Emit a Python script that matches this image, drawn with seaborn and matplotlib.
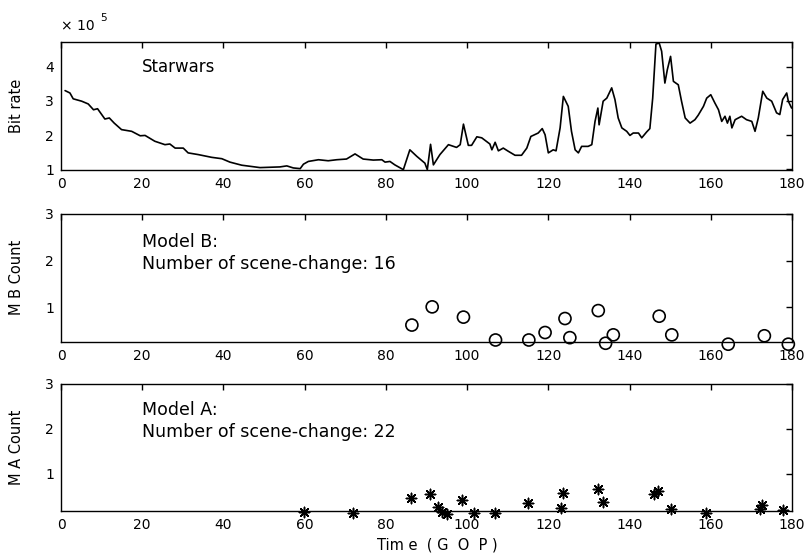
import matplotlib
matplotlib.use("Agg")
import matplotlib.pyplot as plt
import seaborn as sns
import pandas as pd

# ---- data ----
gop_time = [1.0, 2.2, 3.0, 5.1, 6.7, 8.0, 9.0, 10.8, 11.9, 13.1, 14.9, 17.4, 19.5, 20.7,
            23.1, 25.6, 26.8, 28.1, 30.1, 31.3, 33.8, 37.1, 39.6, 41.6, 44.5, 49.0, 53.9,
            55.6, 57.2, 58.9, 59.7, 60.9, 63.4, 65.8, 67.9, 70.3, 72.4, 74.4, 76.9, 79.0,
            79.8, 81.0, 82.2, 84.3, 85.9, 87.6, 89.6, 90.2, 91.0, 91.7, 93.3, 95.4, 97.4,
            98.3, 99.1, 100.3, 101.1, 102.4, 103.6, 105.6, 106.1, 106.9, 107.7, 108.9,
            110.1, 111.8, 113.4, 114.7, 115.7, 117.5, 118.5, 119.2, 120.0, 121.2, 121.9,
            122.9, 123.7, 124.9, 125.7, 126.6, 127.4, 128.2, 129.8, 130.7, 131.5, 132.2,
            132.5, 133.0, 133.5, 134.4, 135.6, 136.4, 137.2, 138.1, 139.3, 140.1, 140.9,
            142.2, 143.0, 144.2, 145.0, 145.7, 146.5, 147.3, 147.9, 148.7, 149.3, 150.1,
            150.8, 152.0, 152.8, 153.7, 154.9, 156.1, 156.9, 158.2, 159.0, 160.0, 161.0,
            161.9, 162.7, 163.5, 164.1, 164.7, 165.2, 166.0, 167.6, 168.8, 170.1, 170.9,
            171.7, 172.8, 173.8, 175.0, 176.2, 177.0, 177.7, 178.7, 179.1, 179.9]
bit_rate = [3.30, 3.23, 3.06, 2.99, 2.91, 2.74, 2.77, 2.47, 2.50, 2.35, 2.16, 2.11, 1.98, 1.99,
            1.82, 1.72, 1.74, 1.62, 1.62, 1.48, 1.43, 1.35, 1.31, 1.21, 1.12, 1.05, 1.07,
            1.10, 1.04, 1.02, 1.15, 1.23, 1.28, 1.25, 1.28, 1.30, 1.45, 1.30, 1.27, 1.28,
            1.21, 1.23, 1.13, 0.99, 1.57, 1.38, 1.18, 0.99, 1.73, 1.13, 1.43, 1.72, 1.64,
            1.72, 2.32, 1.70, 1.70, 1.95, 1.92, 1.74, 1.57, 1.79, 1.54, 1.62,
            1.53, 1.41, 1.41, 1.62, 1.96, 2.06, 2.19, 2.01, 1.48, 1.57, 1.54,
            2.21, 3.13, 2.84, 2.11, 1.57, 1.48, 1.67, 1.67, 1.72, 2.40, 2.79,
            2.30, 2.65, 2.99, 3.08, 3.38, 3.04, 2.50, 2.21, 2.11, 1.99, 2.06,
            2.06, 1.92, 2.09, 2.19, 3.08, 4.66, 4.69, 4.45, 3.52, 3.91, 4.30,
            3.57, 3.47, 2.99, 2.50, 2.35, 2.45, 2.58, 2.84, 3.08, 3.18, 2.94,
            2.74, 2.40, 2.55, 2.35, 2.55, 2.21, 2.45, 2.55, 2.45, 2.40, 2.11,
            2.50, 3.28, 3.08, 2.99, 2.65, 2.60, 3.04, 3.23, 2.99, 2.79]

mb_time = [86.4, 91.4, 99.1, 107.0, 115.2, 119.2, 124.1, 125.3, 132.3, 134.1, 136.0,
           147.3, 150.4, 164.3, 173.2, 179.1]
mb_count = [0.62, 1.01, 0.79, 0.30, 0.30, 0.46, 0.76, 0.35, 0.93, 0.23, 0.41,
            0.81, 0.41, 0.21, 0.39, 0.21]

ma_time = [59.8, 72.0, 86.2, 90.9, 92.9, 93.7, 95.0, 98.7, 101.7, 106.9, 114.9, 123.1,
           123.7, 132.3, 133.5, 145.9, 147.1, 150.1, 158.8, 172.0, 172.5, 177.9]
ma_count = [0.15, 0.12, 0.46, 0.55, 0.26, 0.16, 0.10, 0.42, 0.12, 0.14, 0.35, 0.25,
            0.58, 0.66, 0.37, 0.56, 0.61, 0.22, 0.14, 0.22, 0.31, 0.19]

x_ticks = [0, 20, 40, 60, 80, 100, 120, 140, 160, 180]

sns.set_style("white")
plt.rcParams['font.family'] = ['DejaVu Sans']
plt.rcParams['text.color'] = 'black'
plt.rcParams['axes.labelcolor'] = 'black'

fig = plt.figure(figsize=(8.07, 5.57), dpi=100)
ax1 = fig.add_axes([0.0756, 0.6948, 0.9058, 0.2298])
ax2 = fig.add_axes([0.0756, 0.3865, 0.9058, 0.2293])
ax3 = fig.add_axes([0.0756, 0.0831, 0.9058, 0.2275])

df_rate = pd.DataFrame({"t": gop_time, "r": bit_rate})
df_b = pd.DataFrame({"t": mb_time, "c": mb_count})
df_a = pd.DataFrame({"t": ma_time, "c": ma_count})

sns.lineplot(data=df_rate, x="t", y="r", ax=ax1, color="black", lw=1.2,
             sort=False, estimator=None)
sns.scatterplot(data=df_b, x="t", y="c", ax=ax2, marker="o", s=75,
                facecolor="none", edgecolor="black", linewidth=1.2, clip_on=False)
sns.scatterplot(data=df_a, x="t", y="c", ax=ax3, marker=(8, 2, 0), s=55,
                color="black", edgecolor="black", linewidth=1.1, clip_on=False)

fs_tick = 10
for ax in (ax1, ax2, ax3):
    ax.set_xlim(0, 180)
    ax.set_xticks(x_ticks)
    ax.set_xticklabels([str(v) for v in x_ticks])
    ax.tick_params(direction="in", top=True, right=True, length=4, width=1,
                   labelsize=fs_tick, colors="black", pad=5)
    for sp in ax.spines.values():
        sp.set_color("black")
        sp.set_linewidth(1.0)
    ax.set_xlabel("")

ax1.set_ylim(0.98, 4.72)
ax1.set_yticks([1, 2, 3, 4])
ax1.set_ylabel("Bit rate", fontsize=10.5, color="black")
ax1.text(0.0, 1.07, "× 10", transform=ax1.transAxes, fontsize=10, ha="left", va="bottom")
ax1.text(0.054, 1.15, "5", transform=ax1.transAxes, fontsize=7.5, ha="left", va="bottom")
ax1.text(20, 4.0, "Starwars", fontsize=12, ha="left", va="center")

ax2.set_ylim(0.263, 3)
ax2.set_yticks([1, 2, 3])
ax2.set_ylabel("M B Count", fontsize=10.5, color="black")
ax2.text(20, 2.17, "Model B:\nNumber of scene-change: 16", fontsize=12.5,
         ha="left", va="center", linespacing=1.3)

ax3.set_ylim(0.18, 3)
ax3.set_yticks([1, 2, 3])
ax3.set_ylabel("M A Count", fontsize=10.5, color="black")
ax3.text(20, 2.18, "Model A:\nNumber of scene-change: 22", fontsize=12.5,
         ha="left", va="center", linespacing=1.3)
fig.text(437 / 807, 1 - 545 / 557, "Tim e  ( G  O  P )", fontsize=10.5,
         ha="center", va="center")

for ax in (ax1, ax2, ax3):
    ax.yaxis.set_label_coords(-0.05, 0.5)

fig.savefig("out.png", dpi=100)
